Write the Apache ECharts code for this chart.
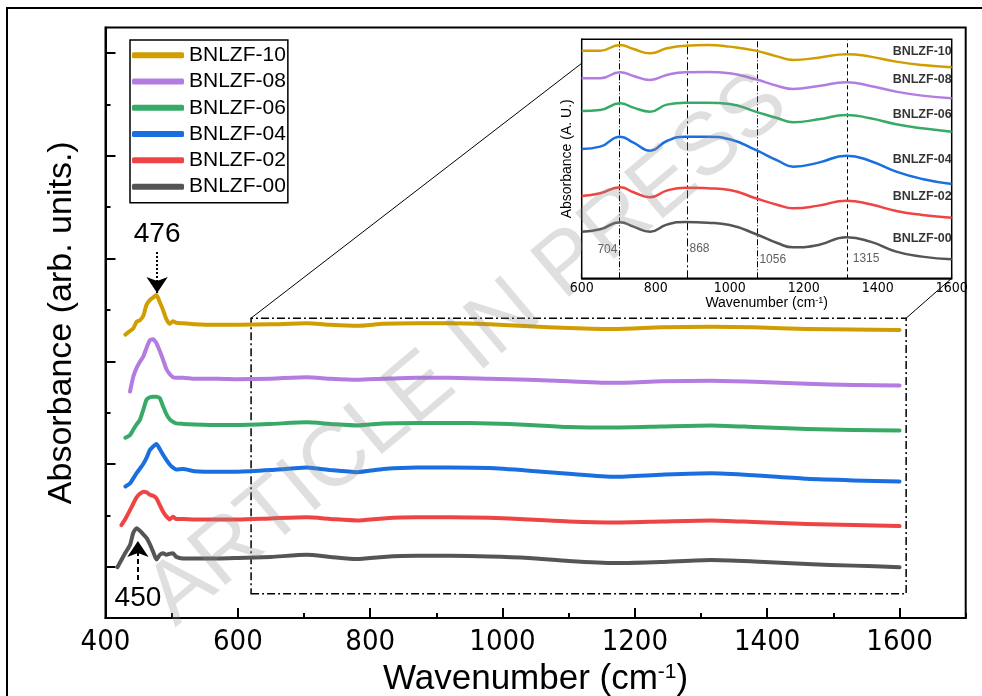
<!DOCTYPE html>
<html><head><meta charset="utf-8">
<script src="https://cdn.jsdelivr.net/npm/echarts@6/dist/echarts.min.js"></script>
<style>html,body{margin:0;padding:0;background:#fff}#c{width:982px;height:696px}</style>
</head><body><div id="c"></div>
<script>
// ---- data (arbitrary absorbance units) ----
const seriesNames = ['BNLZF-00','BNLZF-02','BNLZF-04','BNLZF-06','BNLZF-08','BNLZF-10'];
const legendOrder = ['BNLZF-10','BNLZF-08','BNLZF-06','BNLZF-04','BNLZF-02','BNLZF-00'];
const seriesColors = ['#555555','#EF4444','#1A6FE0','#38AA68','#B27CE0','#D09E00'];

const wavenumber = [418,424,430,437,442,447,452,457,462,467,472,477,482,487,492,497,502,507,517,535,570,600,650,704,740,780,820,870,920,980,1040,1100,1170,1240,1315,1380,1460,1530,1600];
const bnlzf00 = [-0.01,0.13,0.27,0.42,0.66,0.75,0.70,0.63,0.56,0.44,0.29,0.14,0.23,0.26,0.23,0.25,0.26,0.19,0.16,0.16,0.16,0.17,0.19,0.23,0.19,0.15,0.19,0.21,0.21,0.20,0.17,0.11,0.07,0.09,0.13,0.10,0.05,0.02,-0.01];
const bnlzf02 = [null,0.81,0.93,1.10,1.23,1.35,1.42,1.46,1.45,1.40,1.38,1.33,1.20,1.07,0.98,0.92,0.97,0.93,0.93,0.92,0.92,0.92,0.94,0.96,0.93,0.90,0.94,0.96,0.96,0.95,0.92,0.88,0.86,0.88,0.90,0.87,0.83,0.81,0.79];
const bnlzf04 = [null,null,1.56,1.62,1.72,1.82,1.91,2.00,2.12,2.27,2.34,2.39,2.29,2.18,2.08,1.99,1.93,1.89,1.90,1.86,1.85,1.85,1.88,1.93,1.88,1.84,1.90,1.93,1.93,1.92,1.87,1.81,1.75,1.79,1.82,1.78,1.71,1.68,1.66];
const bnlzf06 = [null,null,2.51,2.56,2.67,2.77,2.86,3.05,3.25,3.30,3.31,3.31,3.28,3.12,2.97,2.87,2.82,2.79,2.78,2.77,2.76,2.76,2.78,2.81,2.78,2.75,2.79,2.80,2.80,2.79,2.76,2.72,2.71,2.73,2.75,2.72,2.68,2.66,2.65];
const bnlzf08 = [null,null,null,3.41,3.70,3.87,3.99,4.09,4.26,4.41,4.43,4.35,4.20,4.03,3.85,3.75,3.69,3.68,3.68,3.66,3.66,3.65,3.66,3.69,3.66,3.64,3.66,3.68,3.68,3.66,3.64,3.61,3.58,3.61,3.62,3.60,3.56,3.54,3.53];
const bnlzf10 = [null,null,4.52,4.59,4.64,4.77,4.80,4.88,5.10,5.19,5.24,5.29,5.15,5.00,4.82,4.73,4.78,4.75,4.74,4.72,4.71,4.71,4.72,4.74,4.71,4.69,4.73,4.74,4.74,4.72,4.68,4.65,4.63,4.66,4.67,4.66,4.63,4.62,4.61];
const mainValues = [bnlzf00,bnlzf02,bnlzf04,bnlzf06,bnlzf08,bnlzf10];

// inset (zoomed 600-1600 region)
const insetWavenumber = [600,650,704,740,785,830,880,940,1000,1070,1130,1172,1240,1316,1380,1450,1520,1600];
const inset00 = [1.40,1.47,1.68,1.55,1.40,1.61,1.69,1.67,1.60,1.33,1.05,0.93,1.00,1.23,1.10,0.80,0.65,0.57];
const inset02 = [2.47,2.55,2.73,2.58,2.43,2.63,2.72,2.70,2.65,2.40,2.20,2.10,2.18,2.33,2.22,2.02,1.90,1.82];
const inset04 = [3.88,3.95,4.25,4.07,3.83,4.12,4.25,4.25,4.17,3.85,3.53,3.35,3.47,3.68,3.52,3.20,2.98,2.83];
const inset06 = [5.02,5.05,5.25,5.12,5.00,5.21,5.27,5.27,5.23,5.00,4.80,4.68,4.77,4.90,4.80,4.62,4.50,4.40];
const inset08 = [6.00,6.00,6.18,6.07,5.95,6.10,6.18,6.19,6.15,5.97,5.77,5.68,5.77,5.88,5.77,5.60,5.48,5.40];
const inset10 = [6.83,6.83,7.00,6.88,6.75,6.90,6.98,7.00,6.95,6.83,6.65,6.55,6.62,6.72,6.65,6.50,6.40,6.33];
const insetValues = [inset00,inset02,inset04,inset06,inset08,inset10];
const insetNameY = [1.20,2.45,3.55,4.90,5.95,6.80];

const insetMarkPos = [702,886,1075,1319];
const insetMarkLabels = ['704','868','1056','1315'];
const insetMarkLabelY = [0.85,0.90,0.55,0.60];

const xMajorTicks = [400,600,800,1000,1200,1400,1600];
const xMinorTicks = [500,700,900,1100,1300,1500,1700];
const yMajorTicks = [0,2,4,6,8,10];
const yMinorTicks = [1,3,5,7,9];

const peakTop = {wn:478, from:6.13, to:5.33, text:'476'};
const peakBottom = {wn:449, from:-0.26, to:0.50, text:'450'};
const zoomX = [620,1610];
const zoomY = [-0.53,4.84];
const insetLinkLeft = [600,6.45];
const insetLinkRight = [1600,0];

// ---- chart ----
const NARROW = "'Liberation Sans Narrow','DejaVu Sans Condensed',sans-serif";
const SANS = "'Liberation Sans',Arial,sans-serif";
const plain = v => String(v);
const chart = echarts.init(document.getElementById('c'), null, {renderer:'canvas'});

const series = [];
mainValues.forEach((vals,i)=>{
  const s = {
    name: seriesNames[i], type:'line', xAxisIndex:0, yAxisIndex:0,
    data: wavenumber.map((w,k)=>[w, vals[k]]),
    showSymbol:false, smooth:0.2, color: seriesColors[i],
    lineStyle:{width:4, color: seriesColors[i], cap:'round', join:'round'},
    z:3
  };
  if (i===0) {
    s.markArea = {silent:true, itemStyle:{color:'rgba(0,0,0,0)', borderColor:'#000', borderWidth:1.5, borderType:[8,3,2,3]},
      data:[[{coord:[zoomX[0], zoomY[0]]},{coord:[zoomX[1], zoomY[1]]}]]};
    s.markLine = {silent:true, symbol:['none','arrow'], symbolSize:16, animation:false,
      lineStyle:{color:'#000', width:2, type:[5,3]},
      label:{show:true, position:'start', formatter: peakBottom.text, fontFamily:SANS, fontSize:28, color:'#000', distance:4},
      data:[[{coord:[peakBottom.wn, peakBottom.from]},{coord:[peakBottom.wn, peakBottom.to]}]]};
  }
  if (i===5) {
    s.markLine = {silent:true, symbol:['none','arrow'], symbolSize:16, animation:false,
      lineStyle:{color:'#000', width:2, type:[2,2]},
      label:{show:true, position:'start', formatter: peakTop.text, fontFamily:SANS, fontSize:28, color:'#000', distance:4},
      data:[[{coord:[peakTop.wn, peakTop.from]},{coord:[peakTop.wn, peakTop.to]}]]};
  }
  series.push(s);
});
insetValues.forEach((vals,i)=>{
  const s = {
    name: seriesNames[i], type:'line', xAxisIndex:2, yAxisIndex:2,
    data: insetWavenumber.map((w,k)=>[w, vals[k]]),
    showSymbol:false, smooth:true, color: seriesColors[i],
    lineStyle:{width:2.5, color: seriesColors[i]}, z:5
  };
  if (i===0) {
    const types = [[6,2,1,2],[8,3,2,3],[6,2,1,2],[4,3]];
    s.markLine = {silent:true, symbol:'none', animation:false, label:{show:false},
      lineStyle:{color:'#000', width:1},
      data: insetMarkPos.map((p,k)=>({xAxis:p, lineStyle:{type:types[k], color:'#000', width:1}}))};
  }
  series.push(s);
});
series.push({
  name:'insetNames', type:'scatter', xAxisIndex:2, yAxisIndex:2, symbolSize:0, silent:true, z:6,
  data: insetNameY.map((y,i)=>({value:[1600,y], label:{formatter: seriesNames[i]}})),
  label:{show:true, position:'left', distance:0, fontFamily:SANS, fontWeight:'bold', fontSize:12.5, color:'#000'}
});
series.push({
  name:'insetPeaks', type:'scatter', xAxisIndex:2, yAxisIndex:2, symbolSize:0, silent:true, z:6,
  data: insetMarkPos.map((p,i)=>({value:[p, insetMarkLabelY[i]], label:{formatter: insetMarkLabels[i], position: i===0?'left':'right', distance: i===3?5:2}})),
  label:{show:true, fontFamily:SANS, fontSize:12, color:'#333'}
});

const option = {
  animation:false,
  backgroundColor:'#fff',
  grid:[
    {left:105.5, right:16.3, top:27.5, bottom:78, show:true, borderColor:'#000', borderWidth:2, z:1, containLabel:false, outerBoundsMode:'none'},
    {left:581.7, width:370, top:39.3, height:239, show:true, borderColor:'#000', borderWidth:1.5, backgroundColor:'#fff', z:4, containLabel:false, outerBoundsMode:'none'}
  ],
  legend:{
    data: legendOrder, orient:'vertical', left:130, top:40, padding:[2,2,3,2], itemGap:0,
    itemWidth:52, itemHeight:6, icon:'roundRect', borderColor:'#000', borderWidth:1.5, backgroundColor:'#fff',
    textStyle:{fontFamily:SANS, fontSize:21, color:'#000', lineHeight:26.3}, z:10
  },
  xAxis:[
    {gridIndex:0, type:'value', min:400, max:1700, interval:200,
     axisLine:{show:true, onZero:false, lineStyle:{color:'#000', width:2}},
     axisTick:{show:true, inside:true, length:10, customValues:xMajorTicks, lineStyle:{color:'#000', width:2}},
     axisLabel:{customValues:xMajorTicks, formatter:plain, fontFamily:NARROW, fontSize:29, color:'#000', margin:10},
     splitLine:{show:false},
     name:'Wavenumber (cm{s|-1})', nameLocation:'middle', nameGap:35,
     nameTextStyle:{fontFamily:SANS, fontSize:35, color:'#000', rich:{s:{fontFamily:SANS, fontSize:21, color:'#000', verticalAlign:'top', lineHeight:21}}}},
    {gridIndex:0, type:'value', min:400, max:1700, position:'bottom',
     axisLine:{show:false, onZero:false},
     axisTick:{show:true, inside:true, length:5, customValues:xMinorTicks, lineStyle:{color:'#000', width:2}},
     axisLabel:{show:false}, splitLine:{show:false}},
    {gridIndex:1, type:'value', min:600, max:1600, interval:200,
     axisLine:{show:true, onZero:false, lineStyle:{color:'#000', width:1.5}},
     axisTick:{show:true, inside:true, length:5, lineStyle:{color:'#000', width:1.2}},
     minorTick:{show:true, splitNumber:2, length:3, lineStyle:{color:'#000', width:1.2}},
     axisLabel:{formatter:plain, fontFamily:NARROW, fontSize:14, color:'#000', margin:3},
     splitLine:{show:false}, minorSplitLine:{show:false},
     name:'Wavenumber (cm{s|-1})', nameLocation:'middle', nameGap:16,
     nameTextStyle:{fontFamily:SANS, fontSize:14, color:'#000', rich:{s:{fontFamily:SANS, fontSize:9, color:'#000', verticalAlign:'top', lineHeight:9}}}}
  ],
  yAxis:[
    {gridIndex:0, type:'value', min:-1, max:10.5,
     axisLine:{show:true, onZero:false, lineStyle:{color:'#000', width:2}},
     axisTick:{show:true, inside:true, length:10, customValues:yMajorTicks, lineStyle:{color:'#000', width:2}},
     axisLabel:{show:false}, splitLine:{show:false},
     name:'Absorbance (arb. units.)', nameLocation:'middle', nameGap:27, nameRotate:90,
     nameTextStyle:{fontFamily:SANS, fontSize:34, color:'#000'}},
    {gridIndex:0, type:'value', min:-1, max:10.5, position:'left',
     axisLine:{show:false, onZero:false},
     axisTick:{show:true, inside:true, length:5, customValues:yMinorTicks, lineStyle:{color:'#000', width:2}},
     axisLabel:{show:false}, splitLine:{show:false}},
    {gridIndex:1, type:'value', min:0, max:7.17,
     axisLine:{show:true, onZero:false, lineStyle:{color:'#000', width:1.5}},
     axisTick:{show:false}, axisLabel:{show:false}, splitLine:{show:false},
     name:'Absorbance (A. U.)', nameLocation:'middle', nameGap:8, nameRotate:90,
     nameTextStyle:{fontFamily:SANS, fontSize:14, color:'#000'}}
  ],
  series: series,
  graphic:[
    {type:'polyline', id:'frame', silent:true, z:50, shape:{points:[[7,700],[7,8],[990,8]]}, style:{stroke:'#000', lineWidth:2, fill:null}},
    {type:'text', id:'wm', silent:true, z:100, x:468, y:350, rotation:40*Math.PI/180,
     style:{text:'ARTICLE IN PRESS', fontFamily:SANS, fontSize:88, fill:'rgba(140,140,140,0.28)', align:'center', verticalAlign:'middle'}}
  ]
};
chart.setOption(option);

const pA = chart.convertToPixel({seriesIndex:0}, [zoomX[0], zoomY[1]]);
const pB = chart.convertToPixel({seriesIndex:0}, [zoomX[1], zoomY[1]]);
const qA = chart.convertToPixel({seriesIndex:6}, insetLinkLeft);
const qB = chart.convertToPixel({seriesIndex:6}, insetLinkRight);
chart.setOption({graphic:[
  {type:'line', id:'linkA', silent:true, z:20, shape:{x1:pA[0], y1:pA[1], x2:qA[0], y2:qA[1]}, style:{stroke:'#000', lineWidth:1}},
  {type:'line', id:'linkB', silent:true, z:20, shape:{x1:pB[0], y1:pB[1], x2:qB[0], y2:qB[1]}, style:{stroke:'#000', lineWidth:1}}
]});
</script></body></html>
